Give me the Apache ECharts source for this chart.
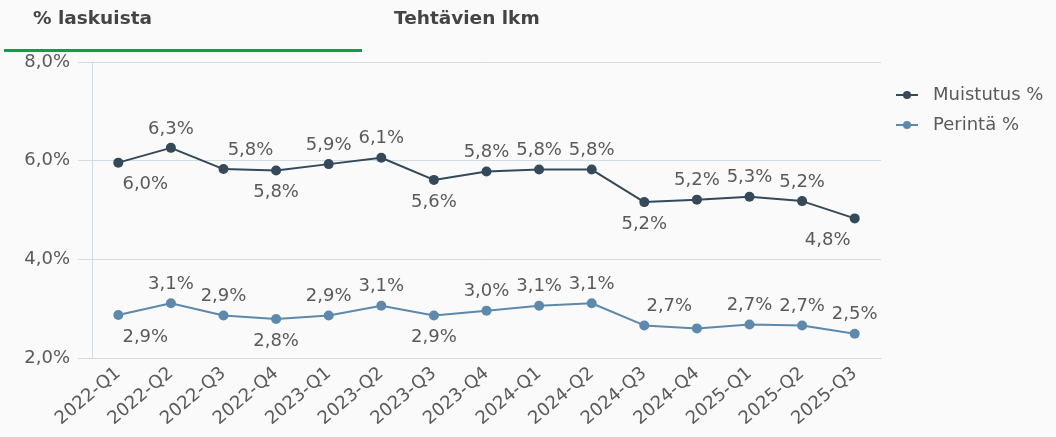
<!DOCTYPE html>
<html>
<head>
<meta charset="utf-8">
<script src="https://cdn.jsdelivr.net/npm/echarts@6/dist/echarts.min.js"></script>
<style>
html,body{margin:0;padding:0;background:#fafafa;}
#c{width:1056px;height:437px;}
</style>
</head>
<body>
<div id="c"></div>
<script>
const categories = ['2022-Q1','2022-Q2','2022-Q3','2022-Q4','2023-Q1','2023-Q2','2023-Q3','2023-Q4','2024-Q1','2024-Q2','2024-Q3','2024-Q4','2025-Q1','2025-Q2','2025-Q3'];
const muistutus = [5.96, 6.26, 5.83, 5.80, 5.93, 6.06, 5.61, 5.78, 5.82, 5.82, 5.16, 5.21, 5.27, 5.18, 4.83];
const perinta   = [2.87, 3.11, 2.86, 2.79, 2.86, 3.06, 2.86, 2.96, 3.06, 3.11, 2.66, 2.60, 2.68, 2.66, 2.49];
const muistutusLabelPos = ['bottom','top','top','bottom','top','top','bottom','top','top','top','bottom','top','top','top','bottom'];
const perintaLabelPos   = ['bottom','top','top','bottom','top','top','bottom','top','top','top','top','none','top','top','top'];
const muistutusLabelShift = [27,0,27,0,0,0,0,0,0,0,0,0,0,0,-27];
const perintaLabelShift   = [27,0,0,0,0,0,0,0,0,0,25,0,0,0,0];
const yTicks = {min: 2, max: 8, interval: 2};

const FONT = 'DejaVu Sans';
const TXT = '#5a5a5a';
const fmt = v => v.toFixed(1).replace('.', ',') + '%';

function buildData(vals, pos, shift) {
  return vals.map((v, i) => ({
    value: v,
    label: pos[i] === 'none' ? {show: false}
      : {show: true, position: pos[i], offset: [shift[i], 0], distance: pos[i] === 'bottom' ? 8 : 5}
  }));
}

const chart = echarts.init(document.getElementById('c'), null, {renderer: 'canvas'});
chart.setOption({
  backgroundColor: '#fafafa',
  animation: false,
  textStyle: {fontFamily: FONT},
  graphic: [
    {type: 'text', left: 33, top: 10, style: {text: '% laskuista', font: 'bold 18.5px "DejaVu Sans"', fill: '#444444'}},
    {type: 'text', left: 394, top: 10, style: {text: 'Tehtävien lkm', font: 'bold 18.5px "DejaVu Sans"', fill: '#444444'}},
    {type: 'rect', left: 4, top: 49, shape: {width: 358, height: 3}, style: {fill: '#0f9d48'}}
  ],
  legend: {
    orient: 'vertical',
    left: 895,
    top: 86,
    padding: 0,
    itemWidth: 22,
    itemHeight: 10,
    itemGap: 12,
    textStyle: {color: TXT, fontSize: 18, fontFamily: FONT, padding: [0, 0, 0, 10]},
    data: ['Muistutus %', 'Perintä %']
  },
  grid: {left: 92, right: 175, top: 62, bottom: 79},
  xAxis: {
    type: 'category',
    data: categories,
    boundaryGap: true,
    axisLine: {show: true, lineStyle: {color: '#d3dbe2'}},
    axisTick: {show: false},
    axisLabel: {rotate: 40, color: TXT, fontSize: 18, fontFamily: FONT, margin: 13, interval: 0}
  },
  yAxis: {
    type: 'value',
    min: yTicks.min, max: yTicks.max, interval: yTicks.interval,
    axisLine: {show: true, lineStyle: {color: '#d3dbe2'}},
    axisTick: {show: true, length: 14, lineStyle: {color: '#d3dbe2'}},
    splitLine: {show: true, lineStyle: {color: '#d3dbe2'}},
    axisLabel: {color: TXT, fontSize: 18, fontFamily: FONT, margin: 22, formatter: v => fmt(v)}
  },
  series: [
    {
      name: 'Muistutus %', type: 'line',
      data: buildData(muistutus, muistutusLabelPos, muistutusLabelShift),
      symbol: 'circle', symbolSize: 10,
      itemStyle: {color: '#34495a'},
      lineStyle: {color: '#34495a', width: 2},
      label: {show: true, color: TXT, fontSize: 18, fontFamily: FONT, formatter: p => fmt(p.value)}
    },
    {
      name: 'Perintä %', type: 'line',
      data: buildData(perinta, perintaLabelPos, perintaLabelShift),
      symbol: 'circle', symbolSize: 10,
      itemStyle: {color: '#5d89ad'},
      lineStyle: {color: '#5d89ad', width: 2},
      label: {show: true, color: TXT, fontSize: 18, fontFamily: FONT, formatter: p => fmt(p.value)}
    }
  ]
});
</script>
</body>
</html>
